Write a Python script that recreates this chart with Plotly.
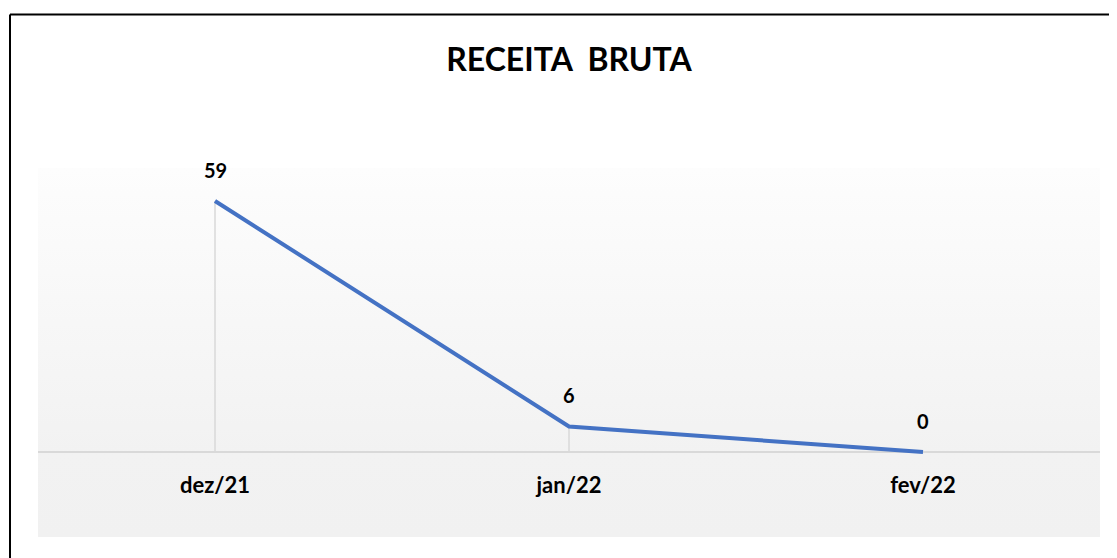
import base64
import plotly.graph_objects as go

# ---- data ----
categories = ["dez/21", "jan/22", "fev/22"]
values = [59, 6, 0]
title_text = "RECEITA  BRUTA"

# ---- layout geometry (pixels, figure sits 8px inside the page) ----
W, H = 1109, 550
ML, MR, MT, MB = 30, 17, 160, 21
plot_h = H - MT - MB
axis_px_from_bottom = 85          # x axis line sits 85px above plot-area bottom
px_per_unit = 251 / 59
y_min = -axis_px_from_bottom / px_per_unit
y_max = (plot_h - axis_px_from_bottom) / px_per_unit

FONT = "Lato"
BLUE = "#4472C4"
GRID = "#D9D9D9"

fig = go.Figure()

# drop lines from each point to the axis
for c, v in zip(categories, values):
    if v != 0:
        fig.add_trace(go.Scatter(x=[c, c], y=[0, v], mode="lines",
                                 line=dict(color=GRID, width=1.5),
                                 hoverinfo="skip", showlegend=False))

fig.add_trace(go.Scatter(x=categories, y=values, mode="lines",
                         line=dict(color=BLUE, width=4),
                         showlegend=False, cliponaxis=False))

for c, v in zip(categories, values):
    fig.add_annotation(x=c, y=v, text=f"<b>{v}</b>", showarrow=False,
                       yshift=31, font=dict(family=FONT, size=20, color="#000000"))

# gradient background for plot area as an SVG image
svg = ("<svg xmlns='http://www.w3.org/2000/svg' width='10' height='100' "
       "viewBox='0 0 10 100' preserveAspectRatio='none'>"
       "<defs><linearGradient id='g' x1='0' y1='0' x2='0' y2='1'>"
       "<stop offset='0' stop-color='#FDFDFD'/>"
       "<stop offset='0.77' stop-color='#F2F2F2'/>"
       "<stop offset='1' stop-color='#F1F1F1'/>"
       "</linearGradient></defs>"
       "<rect x='0' y='0' width='10' height='100' fill='url(#g)'/></svg>")
src = "data:image/svg+xml;base64," + base64.b64encode(svg.encode()).decode()
fig.add_layout_image(dict(source=src, xref="paper", yref="paper", x=0, y=1,
                          sizex=1, sizey=1, sizing="stretch", layer="below",
                          xanchor="left", yanchor="top"))

# outer border (top and left)
pw = W - ML - MR
def px_x(p):
    return (p - ML) / pw
def px_y(p):
    return (H - MB - p) / plot_h
fig.add_shape(type="line", xref="paper", yref="paper",
              x0=px_x(2), x1=px_x(W + 5), y0=px_y(6.5), y1=px_y(6.5),
              line=dict(color="#000000", width=2))
fig.add_shape(type="line", xref="paper", yref="paper",
              x0=px_x(2), x1=px_x(2), y0=px_y(6.5), y1=px_y(H + 5),
              line=dict(color="#000000", width=2))

fig.update_layout(
    width=W, height=H,
    margin=dict(l=ML, r=MR, t=MT, b=MB),
    paper_bgcolor="#FFFFFF",
    plot_bgcolor="rgba(0,0,0,0)",
    title=dict(text=f"<b>{title_text}</b>", x=0.5, xref="paper",
               y=1 - 52 / H, yref="container", xanchor="center", yanchor="middle",
               font=dict(family=FONT, size=32, color="#000000")),
    xaxis=dict(type="category", range=[-0.5, len(categories) - 0.5],
               anchor="free", position=axis_px_from_bottom / plot_h,
               showline=True, linecolor=GRID, linewidth=2,
               layer="below traces",
               showgrid=False, zeroline=False, ticks="",
               ticklabelstandoff=14,
               tickfont=dict(family=FONT, size=22, color="#000000"),
               tickprefix="<b>", ticksuffix="</b>"),
    yaxis=dict(range=[y_min, y_max], visible=False, showgrid=False, zeroline=False),
    showlegend=False,
)

fig.write_html("out.html")
